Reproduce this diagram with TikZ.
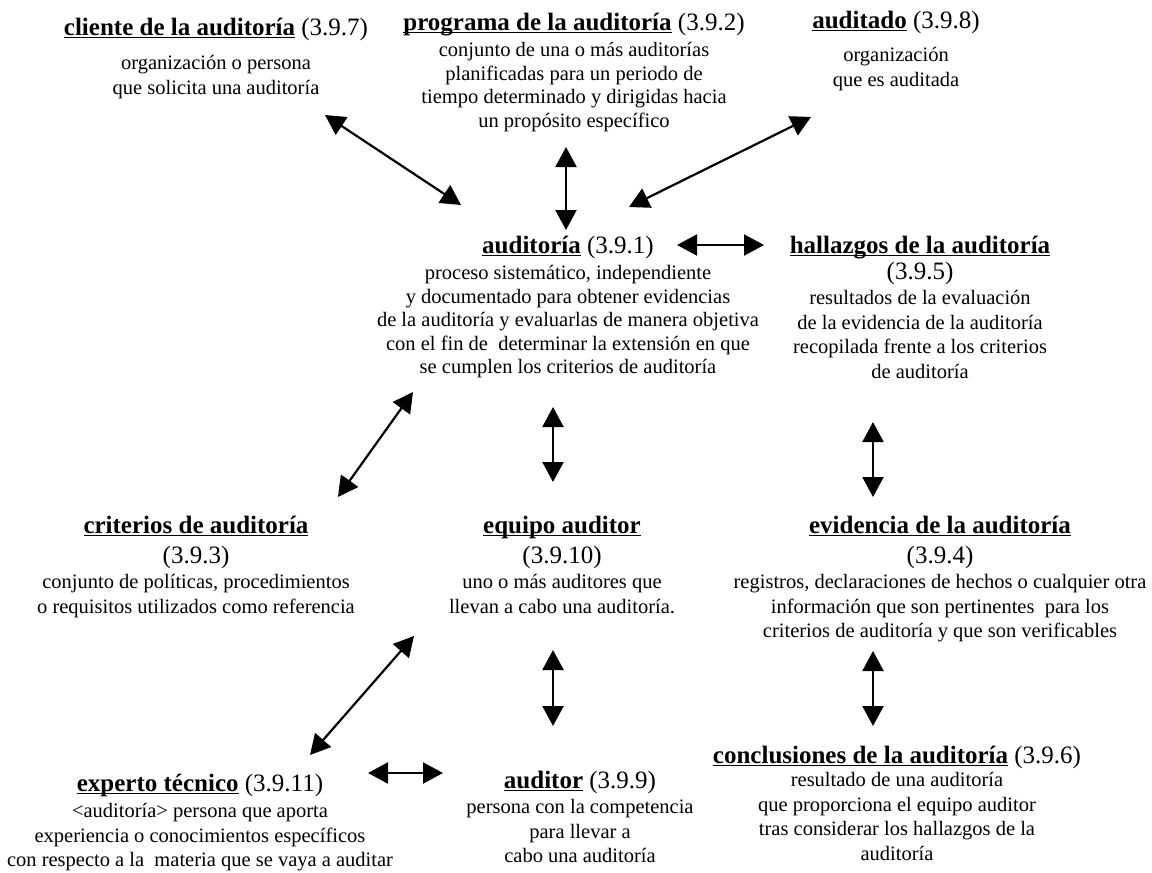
\documentclass[tikz,border=0pt]{standalone}
\usepackage{fontspec}
\setmainfont{Liberation Serif}
\usetikzlibrary{arrows.meta}
\newcommand\ttlu[1]{\rule{0pt}{20pt}\setbox0\hbox{\bfseries #1}\rlap{\rule[-3.2pt]{\wd0}{1.8pt}}\box0{}}
\newcommand\tsz{\fontsize{25}{25}\selectfont}
\tikzset{
  concept/.style={anchor=north, align=center, inner sep=0pt, font=\fontsize{20.5}{24.5}\selectfont},
  tight/.style={font=\fontsize{20.5}{23.5}\selectfont},
  dbl/.style={line width=2.2pt, {Triangle[length=20pt,width=21pt]}-{Triangle[length=20pt,width=21pt]}}
}
\begin{document}
\begin{tikzpicture}[x=1pt,y=-1pt]
\fill[white] (0,0) rectangle (1152,873);
\useasboundingbox (0,0) rectangle (1152,873);

\node[concept] (cliente) at (216,15) {{\tsz\ttlu{cliente de la auditoría} (3.9.7)}\\[10pt] organización o persona\\ que solicita una auditoría};
\node[concept,tight] (programa) at (574,10) {{\tsz\ttlu{programa de la auditoría} (3.9.2)}\\[3pt] conjunto de una o más auditorías\\ planificadas para un periodo de\\ tiempo determinado y dirigidas hacia\\ un propósito específico};
\node[concept] (auditado) at (896,8) {{\tsz\ttlu{auditado} (3.9.8)}\\[9pt] organización\\ que es auditada};
\node[concept,tight] (auditoria) at (568,233) {{\tsz\ttlu{auditoría} (3.9.1)}\\[3pt] proceso sistemático, independiente\\ y documentado para obtener evidencias\\ de la auditoría y evaluarlas de manera objetiva\\ con el fin de\ \ determinar la extensión en que\\ se cumplen los criterios de auditoría};
\node[concept] (hallazgos) at (920,233) {{\tsz\ttlu{hallazgos de la auditoría}}\\[1.5pt] {\tsz(3.9.5)}\\[1pt] resultados de la evaluación\\ de la evidencia de la auditoría\\ recopilada frente a los criterios\\ de auditoría};
\node[concept] (criterios) at (196,513) {{\tsz\ttlu{criterios de auditoría}}\\[5.5pt] {\tsz(3.9.3)}\\[1pt] conjunto de políticas, procedimientos\\ o requisitos utilizados como referencia};
\node[concept] (equipo) at (562,513) {{\tsz\ttlu{equipo auditor}}\\[5.5pt] {\tsz(3.9.10)}\\[1pt] uno o más auditores que\\ llevan a cabo una auditoría.};
\node[concept] (evidencia) at (940,513) {{\tsz\ttlu{evidencia de la auditoría}}\\[5.5pt] {\tsz(3.9.4)}\\[1pt] registros, declaraciones de hechos o cualquier otra\\ información que son pertinentes\ \ para los\\ criterios de auditoría y que son verificables};
\node[concept] (experto) at (200,771) {{\tsz\ttlu{experto técnico} (3.9.11)}\\[2pt] <auditoría> persona que aporta\\ experiencia o conocimientos específicos\\ con respecto a la\ \ materia que se vaya a auditar};
\node[concept] (auditor) at (580,768) {{\tsz\ttlu{auditor} (3.9.9)}\\[1pt] persona con la competencia\\ para llevar a\\ cabo una auditoría};
\node[concept] (conclusiones) at (897,743) {{\tsz\ttlu{conclusiones de la auditoría} (3.9.6)}\\[-1pt] resultado de una auditoría\\ que proporciona el equipo auditor\\ tras considerar los hallazgos de la\\ auditoría};

\draw[dbl] ([shift={(109,100)}]cliente.north) -- ([shift={(-107,-28)}]auditoria.north);
\draw[dbl] ([shift={(-8,137)}]programa.north) -- ([shift={(-2,-3)}]auditoria.north);
\draw[dbl] ([shift={(-85,109)}]auditado.north) -- ([shift={(61,-26)}]auditoria.north);
\draw[dbl] ([shift={(109,12)}]auditoria.north) -- ([shift={(-156,12)}]hallazgos.north);
\draw[dbl] ([shift={(-155,159)}]auditoria.north) -- ([shift={(142,-16)}]criterios.north);
\draw[dbl] ([shift={(-15,174)}]auditoria.north) -- ([shift={(-9,-31)}]equipo.north);
\draw[dbl] ([shift={(-47,189)}]hallazgos.north) -- ([shift={(-67,-16)}]evidencia.north);
\draw[dbl] ([shift={(-148,123)}]equipo.north) -- ([shift={(110,-16)}]experto.north);
\draw[dbl] ([shift={(-9,137)}]equipo.north) -- ([shift={(-27,-42)}]auditor.north);
\draw[dbl] ([shift={(-67,138)}]evidencia.north) -- ([shift={(-24,-17)}]conclusiones.north);
\draw[dbl] ([shift={(168,2)}]experto.north) -- ([shift={(-137,5)}]auditor.north);
\end{tikzpicture}
\end{document}
